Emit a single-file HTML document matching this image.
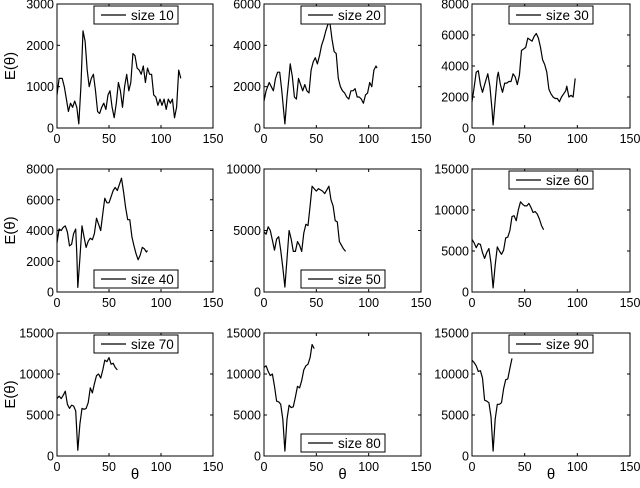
<!DOCTYPE html>
<html><head><meta charset="utf-8"><style>
body{margin:0;background:#fff;}
svg{display:block;font-family:"Liberation Sans","DejaVu Sans",sans-serif;}
</style></head><body>
<svg id="fig" width="640" height="488" viewBox="0 0 640 488" xmlns="http://www.w3.org/2000/svg"></svg>
<script>
const sizes=[10,20,30,40,50,60,70,80,90];
const yMax=[3000,6000,8000,8000,10000,15000,15000,15000,15000];
const yTicks=[[0,1000,2000,3000],[0,2000,4000,6000],[0,2000,4000,6000,8000],[0,2000,4000,6000,8000],[0,5000,10000],[0,5000,10000,15000],[0,5000,10000,15000],[0,5000,10000,15000],[0,5000,10000,15000]];
const xTicks=[0,50,100,150];
const legendPos=['top','top','top','bottom','bottom','top','top','bottom','top'];
const xs1=[0,2,5,7,9,11,13,15,17,19,21,23,25,27,29,31,33,35,37,39,41,43,45,47,49,51,53,55,57,59,61,63,65,67,69,71,73,75,77,79,81,83,85,87,89,91,93,95,97,99,101,103,105,107,109,111,113,115,117,119];
const ys1=[800,1200,1200,1000,700,400,600,500,650,500,100,1000,2350,2100,1400,1000,1200,1300,900,400,350,500,600,450,800,900,500,250,600,1100,900,500,1000,1300,900,1100,1800,1750,1450,1400,1300,1500,1100,1450,1300,1300,800,750,550,700,550,700,450,700,600,700,250,500,1400,1200];
const xs2=[0,2,5,7,9,11,13,15,17,19,20,22,24,25,27,29,31,33,35,37,39,41,43,45,47,49,51,53,55,57,59,61,63,65,67,69,71,73,75,77,79,81,83,85,87,89,91,93,95,97,99,101,103,105,107,108];
const ys2=[1300,1800,2200,2000,1800,2400,2700,2700,1800,700,200,1500,2500,3100,2500,1500,1400,2400,2100,1800,2100,1800,1700,2800,3200,3400,3100,3500,4000,4300,4700,5000,5100,4300,3700,3600,2400,2000,1800,1700,1500,1400,1800,1800,1900,1500,1500,1400,1200,1600,1700,2200,2000,2800,3000,2900];
const xs3=[0,2,4,6,8,10,12,15,17,19,20,22,24,25,27,29,31,33,35,37,39,41,43,45,47,49,51,53,55,57,59,61,63,65,67,69,71,73,75,77,79,81,83,85,87,89,90,92,94,96,98];
const ys3=[1700,2600,3600,3700,2800,2300,2800,3500,2700,1200,200,1800,3300,3600,2800,2300,2900,2900,3000,3000,3500,3300,2800,3400,5000,5100,5200,5800,5700,5600,5900,6100,5800,5200,4400,4100,3600,2500,2200,2000,1900,1900,1700,2000,2200,2400,2700,2000,2100,2000,3200];
const xs4=[0,2,4,6,8,10,12,14,16,18,19,20,22,24,26,28,30,32,34,36,38,40,42,44,46,48,50,52,54,56,58,60,62,64,66,68,70,72,74,76,78,80,82,84,86,87];
const ys4=[3200,4100,4000,4200,4300,3900,3000,3100,3800,4100,2500,300,2200,4300,3600,2900,3300,3500,3400,3800,4800,4400,4000,5100,6100,5800,5800,6200,6600,6800,6600,7000,7400,6500,5500,4700,4700,3600,3000,2500,2100,2400,2900,2800,2600,2700];
const xs5=[0,2,4,6,8,10,12,14,16,18,20,22,24,26,28,30,32,34,36,38,40,42,44,46,48,50,52,54,56,58,60,62,64,66,68,70,72,74,76,78];
const ys5=[4900,4700,5300,5000,4200,3400,4300,4500,3400,2000,400,2700,5000,4300,3300,3300,4100,3800,3300,4800,5500,5400,7000,8600,8400,8200,8400,8300,8200,8000,8300,8600,7500,7000,5800,5700,4100,3800,3500,3300];
const xs6=[0,2,4,6,8,10,12,14,16,18,20,22,24,26,28,30,32,34,36,38,40,42,44,46,48,50,52,54,56,58,60,62,64,66,68];
const ys6=[6400,6000,5400,5900,5800,4800,4100,4800,5300,3500,500,3300,5500,5000,4600,5100,6600,6700,7500,9200,9300,8700,10000,11000,10700,10500,10500,10800,10300,9700,9800,9500,8900,8100,7600];
const xs7=[0,2,4,6,8,10,12,14,16,18,20,22,24,26,28,30,32,34,36,38,40,42,44,46,48,50,52,54,56,58];
const ys7=[7000,7300,7000,7400,7900,6300,5800,6200,6100,5500,700,3900,5800,5700,5800,6500,8300,7700,8800,9800,10000,9500,10500,11700,11500,12000,11200,11300,10800,10500];
const xs8=[0,2,4,6,8,10,12,14,16,18,20,22,24,26,28,30,32,34,36,38,40,42,44,46,48];
const ys8=[10800,11000,10300,9800,10000,8500,6700,6600,6300,4500,600,4500,6200,5900,6000,7200,8500,8300,9200,10500,11000,11200,12000,13600,13100];
const xs9=[0,2,4,6,8,10,12,14,16,18,20,22,24,26,28,30,32,34,36,38];
const ys9=[11700,11400,11000,10300,10400,9500,6800,6700,6500,4800,600,4500,6300,6300,6500,8200,9300,9400,10700,11900];
const XS=[xs1,xs2,xs3,xs4,xs5,xs6,xs7,xs8,xs9];
const YS=[ys1,ys2,ys3,ys4,ys5,ys6,ys7,ys8,ys9];

const NS='http://www.w3.org/2000/svg';
const svg=document.getElementById('fig');
const colL=[57,264,472],colR=[213,421,630];
const rowT=[4,169,333],rowB=[128,292,456];
function mk(tag,attrs,parent){const e=document.createElementNS(NS,tag);for(const k in attrs)e.setAttribute(k,attrs[k]);(parent||svg).appendChild(e);return e;}
for(let i=0;i<9;i++){
  const r=Math.floor(i/3),c=i%3;
  const L=colL[c],R=colR[c],T=rowT[r],B=rowB[r];
  const sx=v=>L+(v/150)*(R-L);
  const sy=v=>B-(v/yMax[i])*(B-T);
  const g=mk('g',{});
  
  
  const box=mk('rect',{x:L,y:T,width:R-L,height:B-T,fill:'#fff',stroke:'#000','stroke-width':1},g);
  
  
  xTicks.forEach(t=>{
    const x=sx(t);
    mk('line',{x1:x,x2:x,y1:B,y2:B-3,stroke:'#000'},g);
    mk('line',{x1:x,x2:x,y1:T,y2:T+3,stroke:'#000'},g);
    const tx=mk('text',{x:x,y:B+15,'font-size':12.5,'text-anchor':'middle'},g);
    tx.textContent=t;
    
    
  });
  yTicks[i].forEach(t=>{
    const y=sy(t);
    mk('line',{x1:L,x2:L+3,y1:y,y2:y,stroke:'#000'},g);
    mk('line',{x1:R,x2:R-3,y1:y,y2:y,stroke:'#000'},g);
    const ty=mk('text',{x:L-3,y:y+4.5,'font-size':12.5,'text-anchor':'end'},g);
    ty.textContent=t;
    
    
  });
  let d='';
  XS[i].forEach((xv,j)=>{d+=(j?'L':'M')+sx(xv).toFixed(1)+' '+sy(YS[i][j]).toFixed(1);});
  const p=mk('path',{d:d,fill:'none',stroke:'#000','stroke-width':1.2,'stroke-linejoin':'round'},g);
  
  
  const lx=L+37,lw=84,lh=18;
  const ly=legendPos[i]==='top'?T+2:B-4-lh;
  const lg=mk('g',{},g);
  
  
  mk('rect',{x:lx,y:ly,width:lw,height:lh,fill:'#fff',stroke:'#000'},lg);
  mk('line',{x1:lx+7,x2:lx+32,y1:ly+lh/2,y2:ly+lh/2,stroke:'#000','stroke-width':1.2},lg);
  const lt=mk('text',{x:lx+37,y:ly+lh/2+5,'font-size':13.5},lg);
  lt.textContent='size '+sizes[i];
  if(c===0){
    const yl=mk('text',{x:0,y:0,'font-size':15,'text-anchor':'middle',transform:'translate(15,'+((T+B)/2)+') rotate(-90)'});
    yl.textContent='E(θ)';
    
    
  }
  if(r===2){
    const xl=mk('text',{x:(L+R)/2,y:479,'font-size':15,'text-anchor':'middle'});
    xl.textContent='θ';
    
    
  }
}
</script>
</body></html>
